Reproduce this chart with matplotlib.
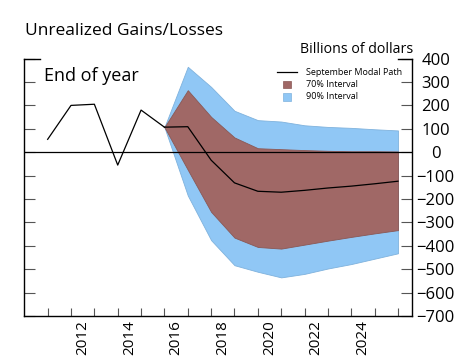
import matplotlib
matplotlib.use('Agg')
import matplotlib.pyplot as plt
from matplotlib.patches import Rectangle
from matplotlib.lines import Line2D

# ---- data ----
hist_years = [2011, 2012, 2013, 2014, 2015, 2016]
hist_values = [55, 200, 205, -55, 180, 107]
fc_years = [2016, 2017, 2018, 2019, 2020, 2021, 2022, 2023, 2024, 2025, 2026]
modal = [107, 109, -34, -131, -167, -171, -163, -153, -145, -135, -124]
p70_upper = [107, 265, 151, 63, 17, 13, 9, 6, 4, 4, 3]
p70_lower = [107, -75, -255, -365, -405, -412, -395, -378, -362, -347, -333]
p90_upper = [107, 365, 279, 177, 137, 131, 115, 108, 104, 98, 93]
p90_lower = [107, -185, -376, -483, -511, -535, -520, -497, -478, -455, -432]
year_ticks = list(range(2011, 2027))
label_years = [2012, 2014, 2016, 2018, 2020, 2022, 2024]
y_ticks = list(range(-700, 401, 100))

FONT = 'Open Sans'
plt.rcParams['font.family'] = [FONT, 'DejaVu Sans']

BROWN = '#A06866'
BLUE = '#90C7F5'

W, H = 459, 358
fig = plt.figure(figsize=(W / 100, H / 100), dpi=100)
ax = fig.add_axes([24.3 / W, 1 - 316 / H, (412 - 24.3) / W, (316 - 58.6) / H])

ax.fill_between(fc_years, p90_lower, p90_upper, color=BLUE, lw=0.6,
                edgecolor='#7FB2DD', zorder=1)
ax.fill_between(fc_years, p70_lower, p70_upper, color=BROWN, lw=0.6,
                edgecolor='#8A5855', zorder=2)
ax.axhline(0, color='black', lw=0.9, zorder=3)
ax.plot(hist_years, hist_values, color='black', lw=0.9, zorder=4)
ax.plot(fc_years, modal, color='black', lw=0.9, zorder=4)

ax.set_xlim(2010.0, 2026.6)
ax.set_ylim(-700, 400)

ax.spines['top'].set_visible(False)
for s in ['left', 'right', 'bottom']:
    ax.spines[s].set_linewidth(1.0)

ax.set_xticks(year_ticks)
ax.set_xticklabels([])
ax.set_xticks([y + 0.5 for y in label_years], minor=True)
ax.set_xticklabels([str(y) for y in label_years], minor=True, rotation=90,
                   fontsize=11, va='top', ha='center')
ax.tick_params(axis='x', which='major', direction='in', length=6, width=0.8,
               color='#555555')
ax.tick_params(axis='x', which='minor', length=0, pad=3)

ax.set_yticks(y_ticks)
ax.tick_params(axis='y', which='major', direction='in', length=8, width=0.8,
               color='#555555', left=True, right=True, labelleft=False,
               labelright=True, labelsize=12, pad=17)
for lbl in ax.get_yticklabels():
    lbl.set_horizontalalignment('center')

# longer top ticks at 400
for x0, x1 in [(0, 16 / (412 - 24.3)), (1 - 14 / (412 - 24.3), 1)]:
    ax.plot([x0, x1], [1, 1], transform=ax.transAxes, color='black', lw=1.0,
            clip_on=False, zorder=5)

fig.text(25 / W, 1 - 35 / H, 'Unrealized Gains/Losses', fontsize=12.5,
         ha='left', va='baseline')
fig.text(413 / W, 1 - 53 / H, 'Billions of dollars', fontsize=10.2,
         ha='right', va='baseline')
fig.text(44 / W, 1 - 81 / H, 'End of year', fontsize=13, ha='left',
         va='baseline')

# legend (drawn manually)
fig.add_artist(Line2D([277 / W, 297 / W], [1 - 72 / H, 1 - 72 / H],
                      color='black', lw=0.9))
fig.add_artist(Rectangle((283 / W, 1 - 88 / H), 7.5 / W, 7.5 / H,
                         facecolor=BROWN, edgecolor='#8A5855', lw=0.5))
fig.add_artist(Rectangle((283 / W, 1 - 100.5 / H), 7.5 / W, 7.5 / H,
                         facecolor=BLUE, edgecolor='#7FB2DD', lw=0.5))
for yy, txt in [(72.3, 'September Modal Path'), (84.3, '70% Interval'),
                (96.7, '90% Interval')]:
    fig.text(306 / W, 1 - yy / H, txt, fontsize=6.5, ha='left', va='center')

fig.savefig('out.png', dpi=100)
